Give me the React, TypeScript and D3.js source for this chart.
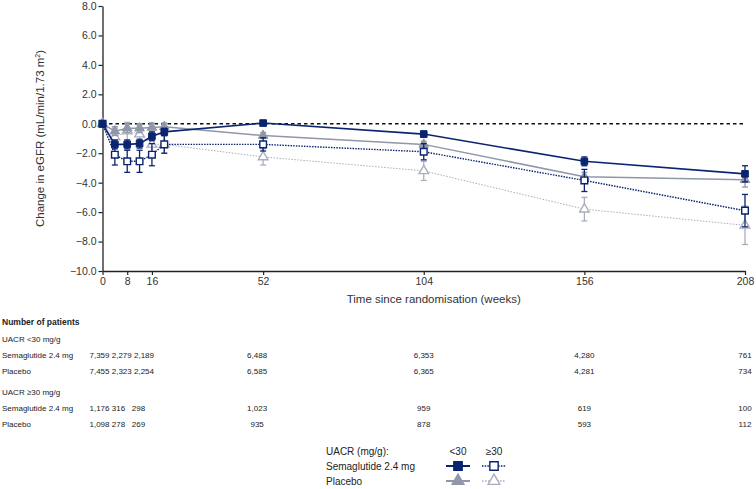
import React, { useRef, useEffect } from "react";
import * as d3 from "d3";

const weeks = [0, 4, 8, 12, 16, 20, 52, 104, 156, 208];

// mean change in eGFR and error (95% CI half-width)
const semaLow = [0, -1.4, -1.4, -1.35, -0.85, -0.55, 0.05, -0.7, -2.55, -3.4];
const semaLowErr = [0, 0.3, 0.3, 0.3, 0.3, 0.25, 0.15, 0.2, 0.3, 0.55];
const semaHigh = [0, -2.1, -2.55, -2.55, -2.1, -1.4, -1.4, -1.9, -3.85, -5.9];
const semaHighErr = [0, 0.7, 0.75, 0.75, 0.75, 0.6, 0.45, 0.55, 0.75, 1.1];
const placLow = [0, -0.5, -0.3, -0.3, -0.25, -0.2, -0.8, -1.4, -3.6, -3.8];
const placLowErr = [0, 0.3, 0.3, 0.3, 0.3, 0.25, 0.2, 0.2, 0.3, 0.5];
const placHigh = [0, -0.9, -0.5, -0.7, -1.4, -1.4, -2.25, -3.2, -5.8, -6.9];
const placHighErr = [0, 0.6, 0.6, 0.6, 0.6, 0.6, 0.55, 0.65, 0.8, 1.3];

const xTicks = [0, 8, 16, 52, 104, 156, 208];
const yTicks = [-10, -8, -6, -4, -2, 0, 2, 4, 6, 8];

// number of patients table
const tableWeeks = [0, 8, 16, 52, 104, 156, 208];
const nSemaLow = ["7,359", "2,279", "2,189", "6,488", "6,353", "4,280", "761"];
const nPlacLow = ["7,455", "2,323", "2,254", "6,585", "6,365", "4,281", "734"];
const nSemaHigh = ["1,176", "316", "298", "1,023", "959", "619", "100"];
const nPlacHigh = ["1,098", "278", "269", "935", "878", "593", "112"];

const NAVY = "#0b2470";
const GREY = "#8f97a8";
const LIGHT = "#a9aebb";
const FONT = "Liberation Sans, Arial, sans-serif";

export default function App() {
  const svgRef = useRef<SVGSVGElement>(null);

  useEffect(() => {
    const svg = d3.select(svgRef.current);
    svg.selectAll("*").remove();

    const width = 756;
    const height = 489;
    svg.attr("width", width).attr("height", height).style("font-family", FONT);

    const x = d3.scaleLinear().domain([0, 208]).range([102.5, 745]);
    const y = d3.scaleLinear().domain([-10, 8]).range([271, 6]);

    // y axis
    const yAxis = svg.append("g")
      .attr("transform", `translate(${x(0)},0)`)
      .call(d3.axisLeft(y).tickValues(yTicks).tickFormat(d3.format(".1f")).tickSize(4).tickSizeOuter(0));
    yAxis.select(".domain").attr("stroke", "#222").attr("stroke-width", 1.3);
    yAxis.selectAll(".tick line").attr("stroke", "#222").attr("stroke-width", 1.2);
    yAxis.selectAll(".tick text")
      .attr("fill", "#333")
      .style("font-size", "10.5px")
      .style("font-family", FONT)
      .attr("x", -6);

    // x axis
    const xAxis = svg.append("g")
      .attr("transform", `translate(0,${y(-10)})`)
      .call(d3.axisBottom(x).tickValues(xTicks).tickFormat(d3.format("d")).tickSize(4).tickSizeOuter(0));
    xAxis.select(".domain").attr("stroke", "#222").attr("stroke-width", 1.3);
    xAxis.selectAll(".tick line").attr("stroke", "#222").attr("stroke-width", 1.2);
    xAxis.selectAll(".tick text")
      .attr("fill", "#333")
      .style("font-size", "10.5px")
      .style("font-family", FONT)
      .attr("y", 7);

    svg.append("text")
      .attr("x", (x(0) + x(208)) / 2 + 10)
      .attr("y", y(-10) + 32)
      .attr("text-anchor", "middle")
      .style("font-size", "11.5px")
      .attr("fill", "#333")
      .text("Time since randomisation (weeks)");

    const yt = svg.append("text")
      .attr("transform", `translate(44,${y(-1)}) rotate(-90)`)
      .attr("text-anchor", "middle")
      .style("font-size", "11.5px")
      .attr("fill", "#333");
    yt.append("tspan").text("Change in eGFR (mL/min/1.73 m");
    yt.append("tspan").attr("dy", -4).style("font-size", "7px").text("2");
    yt.append("tspan").attr("dy", 4).text(")");

    // reference line at 0
    svg.append("line")
      .attr("x1", x(0)).attr("x2", x(208))
      .attr("y1", y(0)).attr("y2", y(0))
      .attr("stroke", "#111")
      .attr("stroke-width", 1.6)
      .attr("stroke-dasharray", "3.5,3");

    const series = [
      { vals: placHigh, err: placHighErr, color: LIGHT, dash: "1.5,1.5", width: 1, shape: "triangle", filled: false },
      { vals: placLow, err: placLowErr, color: GREY, dash: null, width: 1.5, shape: "triangle", filled: true },
      { vals: semaHigh, err: semaHighErr, color: NAVY, dash: "1.5,1.2", width: 1.4, shape: "square", filled: false },
      { vals: semaLow, err: semaLowErr, color: NAVY, dash: null, width: 1.6, shape: "square", filled: true },
    ];

    const line = d3.line<number>()
      .x((d, i) => x(weeks[i]))
      .y(d => y(d));

    const sq = d3.symbol().type(d3.symbolSquare).size(44);
    const tri = d3.symbol().type(d3.symbolTriangle).size(40);

    series.forEach(s => {
      const g = svg.append("g");
      g.append("path")
        .attr("d", line(s.vals))
        .attr("fill", "none")
        .attr("stroke", s.color)
        .attr("stroke-width", s.width)
        .attr("stroke-dasharray", s.dash);

      const pts = weeks.map((w, i) => ({ w, v: s.vals[i], e: s.err[i] })).filter(d => d.e > 0);
      g.selectAll("line.err")
        .data(pts)
        .join("line")
        .attr("x1", d => x(d.w)).attr("x2", d => x(d.w))
        .attr("y1", d => y(d.v + d.e)).attr("y2", d => y(d.v - d.e))
        .attr("stroke", s.color)
        .attr("stroke-width", 1.3);
      [1, -1].forEach(sign => {
        g.selectAll(`line.cap${sign}`)
          .data(pts)
          .join("line")
          .attr("x1", d => x(d.w) - 3).attr("x2", d => x(d.w) + 3)
          .attr("y1", d => y(d.v + sign * d.e)).attr("y2", d => y(d.v + sign * d.e))
          .attr("stroke", s.color)
          .attr("stroke-width", 1.3);
      });

      g.selectAll("path.mk")
        .data(weeks.map((w, i) => ({ w, v: s.vals[i] })))
        .join("path")
        .attr("transform", d => `translate(${x(d.w)},${y(d.v)})`)
        .attr("d", s.shape === "square" ? sq() : tri())
        .attr("fill", s.filled ? s.color : "white")
        .attr("stroke", s.color)
        .attr("stroke-width", s.filled ? 1 : 1.4);
    });

    // number of patients table
    const tbl = svg.append("g").style("font-size", "8px").attr("fill", "#222");
    tbl.append("text").attr("x", 2).attr("y", 325).style("font-weight", "bold").style("font-size", "8.5px").text("Number of patients");
    const rows = [
      { label: "UACR <30 mg/g", y: 342, vals: null },
      { label: "Semaglutide 2.4 mg", y: 358, vals: nSemaLow },
      { label: "Placebo", y: 374, vals: nPlacLow },
      { label: "UACR \u226530 mg/g", y: 395, vals: null },
      { label: "Semaglutide 2.4 mg", y: 411, vals: nSemaHigh },
      { label: "Placebo", y: 427, vals: nPlacHigh },
    ];
    rows.forEach(r => {
      tbl.append("text").attr("x", 2).attr("y", r.y).text(r.label);
      if (!r.vals) return;
      // the three early columns are typeset as one run
      tbl.append("text")
        .attr("x", x(0) - 13)
        .attr("y", r.y)
        .attr("xml:space", "preserve")
        .text(r.vals.slice(0, 3).map((v, i) => (i > 0 && v.length < 5 ? v + "  " : v)).join(" "));
      tableWeeks.slice(3).forEach((w, i) => {
        tbl.append("text")
          .attr("x", x(w) - (w === 52 ? 6 : 0))
          .attr("y", r.y)
          .attr("text-anchor", "middle")
          .text(r.vals[i + 3]);
      });
    });

    // legend
    const lg = svg.append("g").style("font-size", "10px").attr("fill", "#222");
    lg.append("text").attr("x", 326).attr("y", 455).text("UACR (mg/g):");
    lg.append("text").attr("x", 458).attr("y", 455).attr("text-anchor", "middle").text("<30");
    lg.append("text").attr("x", 494).attr("y", 455).attr("text-anchor", "middle").text("\u226530");
    const legRows = [
      { label: "Semaglutide 2.4 mg", y: 466, items: [series[3], series[2]] },
      { label: "Placebo", y: 481, items: [series[1], series[0]] },
    ];
    legRows.forEach(r => {
      lg.append("text").attr("x", 326).attr("y", r.y + 3.5).text(r.label);
      r.items.forEach((s, j) => {
        const cx = 458 + j * 36;
        lg.append("line")
          .attr("x1", cx - 12).attr("x2", cx + 12)
          .attr("y1", r.y).attr("y2", r.y)
          .attr("stroke", s.color)
          .attr("stroke-width", s.dash ? 1.4 : 2)
          .attr("stroke-dasharray", s.dash);
        lg.append("path")
          .attr("transform", `translate(${cx},${r.y})`)
          .attr("d", s.shape === "square" ? d3.symbol().type(d3.symbolSquare).size(70)() : d3.symbol().type(d3.symbolTriangle).size(60)())
          .attr("fill", s.filled ? s.color : "white")
          .attr("stroke", s.color)
          .attr("stroke-width", 1.4);
      });
    });
  }, []);

  return (
    <div style={{ position: "absolute", left: 0, top: 0, background: "white" }}>
      <svg ref={svgRef} />
    </div>
  );
}
